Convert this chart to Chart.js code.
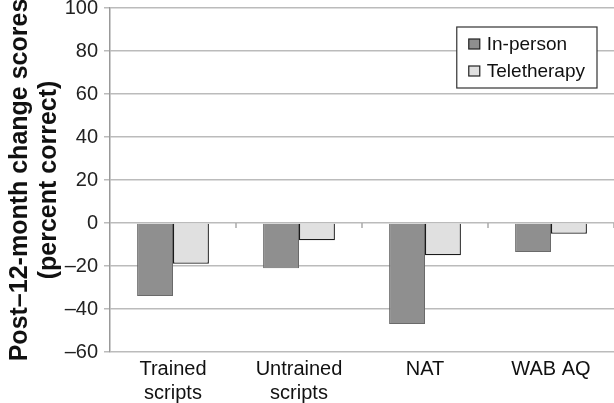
<!DOCTYPE html>
<html>
<head>
<meta charset="utf-8">
<script src="https://cdn.jsdelivr.net/npm/chart.js@4/dist/chart.umd.min.js"></script>
<style>
  html, body { margin: 0; padding: 0; background: #fff; }
  #wrap { width: 614px; height: 403px; }
</style>
</head>
<body>
<div id="wrap"><canvas id="myChart"></canvas></div>
<script>
// datos
const categorias = [["Trained", "scripts"], ["Untrained", "scripts"], "NAT", "WAB AQ"];
const enPersona = [-34, -21, -47, -13.5];
const teleterapia = [-19, -8, -15, -5];
const yMin = -60;
const yMax = 100;
const yPaso = 20;

const FUENTE = "'Liberation Sans', Arial, sans-serif";

// formato con raya para negativos
function formatoTick(v) {
  return v < 0 ? "\u2013" + Math.abs(v) : String(v);
}

// leyenda dentro del área, con recuadro
const leyendaCaja = {
  id: "leyendaCaja",
  afterDraw(chart) {
    const ctx = chart.ctx;
    const area = chart.chartArea;
    const sets = chart.data.datasets;
    ctx.save();
    ctx.font = "19px " + FUENTE;
    let ancho = 0;
    sets.forEach((d) => { ancho = Math.max(ancho, ctx.measureText(d.label).width); });
    const w = 12 + 11 + 7 + ancho + 12;
    const h = 61;
    const x = area.right - 17 - w;
    const y = area.top + 19;
    ctx.fillStyle = "#fff";
    ctx.fillRect(x, y, w, h);
    ctx.strokeStyle = "#333";
    ctx.lineWidth = 1.2;
    ctx.strokeRect(x, y, w, h);
    sets.forEach((d, i) => {
      const cy = y + 17 + i * 27;
      ctx.fillStyle = d.backgroundColor;
      ctx.fillRect(x + 12, cy - 5, 11, 10);
      ctx.strokeStyle = "#222";
      ctx.lineWidth = 1.2;
      ctx.strokeRect(x + 12, cy - 5, 11, 10);
      ctx.fillStyle = "#111";
      ctx.textBaseline = "middle";
      ctx.fillText(d.label, x + 30, cy + 1);
    });
    ctx.restore();
  },
};

// marcas de categoría sobre la línea del cero
const marcasCero = {
  id: "marcasCero",
  afterDatasetsDraw(chart) {
    const ctx = chart.ctx;
    const xs = chart.scales.x;
    const y0 = chart.scales.y.getPixelForValue(0);
    ctx.save();
    ctx.strokeStyle = "#aaa";
    ctx.lineWidth = 1.5;
    for (let i = 1; i <= categorias.length; i++) {
      const px = (xs.getPixelForValue(i - 1) + xs.getPixelForValue(i)) / 2;
      ctx.beginPath();
      ctx.moveTo(px, y0);
      ctx.lineTo(px, y0 + 5);
      ctx.stroke();
    }
    ctx.restore();
  },
};

const config = {
  type: "bar",
  data: {
    labels: categorias,
    datasets: [
      {
        label: "In-person",
        data: enPersona,
        backgroundColor: "#8f8f8f",
        borderColor: "#6a6a6a",
        borderWidth: 1,
        categoryPercentage: 0.57,
        barPercentage: 1.0,
      },
      {
        label: "Teletherapy",
        data: teleterapia,
        backgroundColor: "#e0e0e0",
        borderColor: "#1a1a1a",
        borderWidth: 1.3,
        categoryPercentage: 0.57,
        barPercentage: 1.0,
      },
    ],
  },
  options: {
    responsive: true,
    maintainAspectRatio: false,
    animation: false,
    layout: { padding: { top: 8, right: 0, bottom: 0, left: 0 } },
    plugins: {
      legend: { display: false },
      tooltip: { enabled: false },
    },
    scales: {
      x: {
        grid: { display: false, drawTicks: false },
        border: { display: false },
        ticks: {
          color: "#111",
          font: { family: FUENTE, size: 20, lineHeight: 1.2 },
          padding: 5,
          maxRotation: 0,
        },
        afterFit(scale) { scale.height = 51; },
      },
      y: {
        min: yMin,
        max: yMax,
        ticks: {
          stepSize: yPaso,
          color: "#222",
          font: { family: FUENTE, size: 20 },
          padding: 6,
          callback: formatoTick,
        },
        grid: { color: "#bbb", lineWidth: 1.5, tickLength: 6 },
        border: { color: "#999", width: 1.5 },
        title: {
          display: true,
          text: ["Post\u201312-month change scores", "(percent correct)"],
          color: "#111",
          font: { family: FUENTE, size: 25, weight: "bold", lineHeight: 1.16 },
          padding: { top: 6, bottom: 0 },
        },
        afterFit(scale) {
          scale.width = 110;
          scale.paddingTop = 0;
        },
      },
    },
  },
  plugins: [marcasCero, leyendaCaja],
};

const grafica = new Chart(document.getElementById("myChart"), config);
</script>
</body>
</html>
